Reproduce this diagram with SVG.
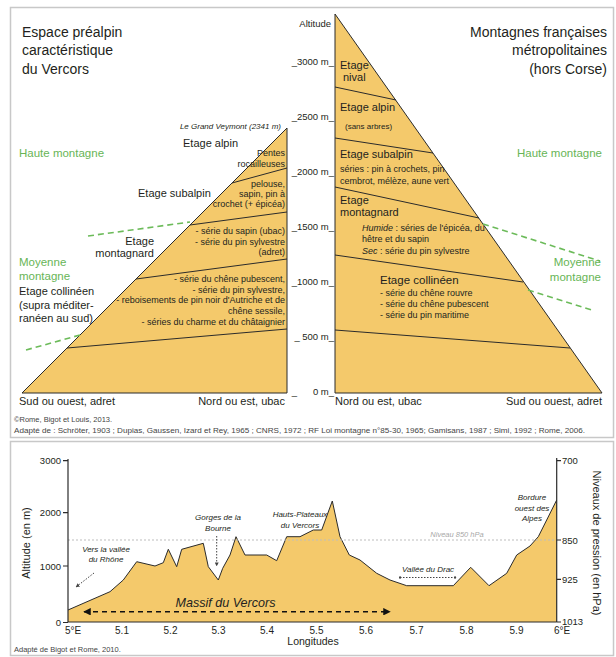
<svg xmlns="http://www.w3.org/2000/svg" width="616" height="657" viewBox="0 0 616 657">
<defs>
<style>
text{font-family:"Liberation Sans",Arial,sans-serif;fill:#231f20}
.t14{font-size:14px}
.t11{font-size:11px}
.t9{font-size:9px}
.t8{font-size:8px}
.alt{font-size:9.5px;text-anchor:end}
.g{fill:#67b556;font-size:11.5px}
.it{font-style:italic}
.end{text-anchor:end}
.mid{text-anchor:middle}
.zone{fill:#f4c96b;stroke:#2b2b2b;stroke-width:1}
.sep{stroke:#2b2b2b;stroke-width:1;fill:none}
.gd{stroke:#6cbb5a;stroke-width:1.6;stroke-dasharray:6 4;fill:none}
.frame{fill:#fff;stroke:#c8c8c8;stroke-width:1.5}
.axis{stroke:#2b2b2b;stroke-width:1.2;fill:none}
.dot{stroke:#444;stroke-width:1;stroke-dasharray:1.5 1.5;fill:none}
</style>
<marker id="ah" viewBox="0 0 10 10" refX="9" refY="5" markerWidth="5" markerHeight="5" orient="auto-start-reverse"><path d="M0,0 L10,5 L0,10 z" fill="#111"/></marker>
<marker id="sah" viewBox="0 0 10 10" refX="9" refY="5" markerWidth="4" markerHeight="4" orient="auto-start-reverse"><path d="M0,0 L10,5 L0,10 z" fill="#444"/></marker>
<marker id="dt" viewBox="0 0 10 10" refX="5" refY="5" markerWidth="3" markerHeight="3"><circle cx="5" cy="5" r="4" fill="#444"/></marker>
</defs>

<rect class="frame" x="10.5" y="7.5" width="603" height="430"/>
<rect class="frame" x="10.5" y="441.5" width="603" height="214"/>

<g id="vercors-pyramid">
<polygon class="zone" points="22,393 287,128 287,393"/>
<line class="sep" x1="232" y1="183" x2="287" y2="168"/>
<line class="sep" x1="190" y1="225" x2="287" y2="212"/>
<line class="sep" x1="136" y1="279" x2="287" y2="259"/>
<line class="sep" x1="67" y1="348" x2="287" y2="329"/>
</g>

<g id="france-pyramid">
<polygon class="zone" points="335,14 335,393 602,393"/>
<line class="sep" x1="335" y1="87" x2="396" y2="100"/>
<line class="sep" x1="335" y1="138" x2="433" y2="153"/>
<line class="sep" x1="335" y1="187" x2="479" y2="218"/>
<line class="sep" x1="335" y1="255" x2="523" y2="282"/>
<line class="sep" x1="335" y1="330" x2="570" y2="348"/>
</g>

<g id="green-limits">
<line class="gd" x1="88" y1="236" x2="190" y2="222"/>
<line class="gd" x1="26" y1="350" x2="80" y2="335"/>
<line class="gd" x1="483" y1="224" x2="600" y2="261"/>
<line class="gd" x1="528" y1="290" x2="592" y2="310"/>
</g>

<g id="titles">
<text class="t14" x="22" y="37">Espace préalpin</text>
<text class="t14" x="22" y="55">caractéristique</text>
<text class="t14" x="22" y="74">du Vercors</text>
<text class="t14 end" x="607" y="37">Montagnes françaises</text>
<text class="t14 end" x="607" y="55">métropolitaines</text>
<text class="t14 end" x="607" y="74">(hors Corse)</text>
</g>

<g id="altitude-scale">
<text class="alt" x="331" y="27">Altitude</text>
<text class="alt" x="334" y="65">_3000 m_</text>
<text class="alt" x="334" y="120">_2500 m_</text>
<text class="alt" x="334" y="175">_2000 m_</text>
<text class="alt" x="334" y="230">_1500 m_</text>
<text class="alt" x="334" y="285">_1000 m_</text>
<text class="alt" x="334" y="340">_ 500 m_</text>
<text class="alt" x="334" y="395">0 m_</text>
<text class="alt" x="297" y="395">_</text>
</g>

<g id="vercors-labels">
<text class="t8 it end" x="281" y="129">Le Grand Veymont (2341 m)</text>
<text class="t11" x="183" y="147">Etage alpin</text>
<text class="t9 end" x="285" y="156">Pentes</text>
<text class="t9 end" x="285" y="167">rocailleuses</text>
<text class="t11" x="138" y="197">Etage subalpin</text>
<text class="t9 end" x="285" y="187">pelouse,</text>
<text class="t9 end" x="285" y="197">sapin, pin à</text>
<text class="t9 end" x="285" y="207">crochet (+ épicéa)</text>
<text class="t11 end" x="154" y="245">Etage</text>
<text class="t11 end" x="154" y="257">montagnard</text>
<text class="t9 end" x="285" y="234">- série du sapin (ubac)</text>
<text class="t9 end" x="285" y="244.5">- série du pin sylvestre</text>
<text class="t9 end" x="285" y="255">(adret)</text>
<text class="t9 end" x="285" y="282">- série du chêne pubescent,</text>
<text class="t9 end" x="285" y="292.5">- série du pin sylvestre,</text>
<text class="t9 end" x="285" y="303">- reboisements de pin noir d'Autriche et de</text>
<text class="t9 end" x="285" y="314">chêne sessile,</text>
<text class="t9 end" x="285" y="325">- séries du charme et du châtaignier</text>
<text class="g" x="19" y="157">Haute montagne</text>
<text class="g" x="19" y="266">Moyenne</text>
<text class="g" x="19" y="280">montagne</text>
<text class="t11" x="19" y="295">Etage collinéen</text>
<text class="t11" x="19" y="308.5">(supra méditer-</text>
<text class="t11" x="19" y="322">ranéen au sud)</text>
<text class="t11" x="19" y="405">Sud ou ouest, adret</text>
<text class="t11 end" x="285" y="405">Nord ou est, ubac</text>
</g>

<g id="france-labels">
<text class="t11" x="340" y="69">Etage</text>
<text class="t11" x="343" y="81">nival</text>
<text class="t11" x="340" y="111">Etage alpin</text>
<text class="t8" x="345" y="129">(sans arbres)</text>
<text class="t11" x="340" y="158">Etage subalpin</text>
<text class="t9" x="340" y="172">séries : pin à crochets, pin</text>
<text class="t9" x="340" y="184">cembrot, mélèze, aune vert</text>
<text class="t11" x="340" y="204">Etage</text>
<text class="t11" x="340" y="216">montagnard</text>
<text class="t9" x="362" y="231"><tspan class="it">Humide</tspan> : séries de l'épicéa, du</text>
<text class="t9" x="362" y="242">hêtre et du sapin</text>
<text class="t9" x="362" y="254"><tspan class="it">Sec</tspan> : série du pin sylvestre</text>
<text class="t11" x="380" y="284" style="font-size:11.5px">Etage collinéen</text>
<text class="t9" x="380" y="296">- série du chêne rouvre</text>
<text class="t9" x="380" y="306.5">- série du chêne pubescent</text>
<text class="t9" x="380" y="317.5">- série du pin maritime</text>
<text class="g end" x="602" y="157">Haute montagne</text>
<text class="g end" x="601" y="266">Moyenne</text>
<text class="g end" x="601" y="281">montagne</text>
<text class="t11" x="335" y="405">Nord ou est, ubac</text>
<text class="t11 end" x="602" y="405">Sud ou ouest, adret</text>
</g>

<g id="credits-top">
<text x="14" y="422" style="font-size:7.5px;fill:#444">©Rome, Bigot et Louis, 2013.</text>
<text x="14" y="433" style="font-size:7.5px;fill:#444" textLength="571" lengthAdjust="spacingAndGlyphs">Adapté de : Schröter, 1903 ; Dupias, Gaussen, Izard et Rey, 1965 ; CNRS, 1972 ; RF Loi montagne n°85-30, 1965; Gamisans, 1987 ; Simi, 1992 ; Rome, 2006.</text>
</g>

<g id="profile">
<polygon points="68,610 110,591.7 123.3,580 136.7,561.7 155,566 163.3,562.7 168.3,549.3 176.7,566.7 181.7,549.3 203.3,543.3 208.3,566.7 218.3,580 222.7,568.3 230,555 236,536.7 245,555 266.7,555 276.7,560.7 286.7,536.7 300,536.7 313.3,530 321.7,530 332.3,501 340,536.7 349.3,555 360,560 376.7,573.3 390,580 406.7,585.7 453.3,585.7 470.7,567.3 489,585.7 506.7,573.3 516.7,555 530,546 538.3,536.7 546.7,520 556.7,500 556.7,622 68,622" fill="#f4c96b" stroke="none"/>
<polyline points="68,610 110,591.7 123.3,580 136.7,561.7 155,566 163.3,562.7 168.3,549.3 176.7,566.7 181.7,549.3 203.3,543.3 208.3,566.7 218.3,580 222.7,568.3 230,555 236,536.7 245,555 266.7,555 276.7,560.7 286.7,536.7 300,536.7 313.3,530 321.7,530 332.3,501 340,536.7 349.3,555 360,560 376.7,573.3 390,580 406.7,585.7 453.3,585.7 470.7,567.3 489,585.7 506.7,573.3 516.7,555 530,546 538.3,536.7 546.7,520 556.7,500" fill="none" stroke="#2b2b2b" stroke-width="1"/>
</g>

<g id="level-850">
<line x1="68" y1="540" x2="556" y2="540" stroke="#bdbdbd" stroke-width="1" stroke-dasharray="2 2"/>
<text class="it mid" x="457" y="537" style="font-size:7.5px;fill:#a8a8a8">Niveau 850 hPa</text>
</g>

<g id="axes">
<line class="axis" x1="68" y1="459" x2="68" y2="622"/>
<line class="axis" x1="556.7" y1="458" x2="556.7" y2="622"/>
<line class="axis" x1="68" y1="622" x2="556.7" y2="622"/>
<path class="axis" d="M63,460.7H68 M63,512.7H68 M63,566H68 M63,622.5H68 M556.7,460.7H561 M556.7,540H561 M556.7,579.3H561 M556.7,622H561"/>
<g style="font-size:9.5px">
<text class="end" x="61" y="464">3000</text>
<text class="end" x="61" y="516">2000</text>
<text class="end" x="61" y="569.5">1000</text>
<text class="end" x="61" y="626">0</text>
<text x="562" y="464">700</text>
<text x="562" y="543.5">850</text>
<text x="562" y="583">925</text>
<text x="562" y="625">1013</text>
</g>
<g style="font-size:10px" class="mid">
<text x="73" y="634">5°E</text>
<text x="122" y="634">5.1</text>
<text x="170.5" y="634">5.2</text>
<text x="218.5" y="634">5.3</text>
<text x="267" y="634">5.4</text>
<text x="316.5" y="634">5.5</text>
<text x="366" y="634">5.6</text>
<text x="416.5" y="634">5.7</text>
<text x="466.5" y="634">5.8</text>
<text x="516.5" y="634">5.9</text>
<text x="562" y="634">6°E</text>
</g>
<text class="mid" x="313" y="645" style="font-size:10.5px">Longitudes</text>
<text class="mid t11" transform="translate(30,543) rotate(-90)">Altitude (en m)</text>
<text class="mid t11" transform="translate(593,543) rotate(90)">Niveaux de pression (en hPa)</text>
</g>

<g id="annotations">
<text class="t8 it mid" x="106" y="552">Vers la vallée</text>
<text class="t8 it mid" x="106" y="562">du Rhône</text>
<line class="dot" x1="94" y1="573" x2="76" y2="587" marker-end="url(#sah)"/>
<text class="t8 it mid" x="218" y="520">Gorges de la</text>
<text class="t8 it mid" x="218" y="531">Bourne</text>
<line class="dot" x1="216.7" y1="536" x2="216.7" y2="566" marker-end="url(#sah)"/>
<text class="t8 it mid" x="300" y="517">Hauts-Plateaux</text>
<text class="t8 it mid" x="300" y="527.5">du Vercors</text>
<text class="t8 it mid" x="428" y="572">Vallée du Drac</text>
<line class="dot" x1="400" y1="577.5" x2="455" y2="577.5" marker-start="url(#dt)" marker-end="url(#dt)"/>
<text class="t8 it mid" x="532" y="500">Bordure</text>
<text class="t8 it mid" x="532" y="510.5">ouest des</text>
<text class="t8 it mid" x="532" y="521">Alpes</text>
<text class="it mid" x="225.5" y="607" style="font-size:13.5px" textLength="100" lengthAdjust="spacingAndGlyphs">Massif du Vercors</text>
<line x1="84" y1="611.7" x2="390" y2="611.7" stroke="#111" stroke-width="1.5" stroke-dasharray="5 4" marker-start="url(#ah)" marker-end="url(#ah)"/>
</g>

<text x="14" y="652" style="font-size:7.5px;fill:#444">Adapté de Bigot et Rome, 2010.</text>
</svg>
